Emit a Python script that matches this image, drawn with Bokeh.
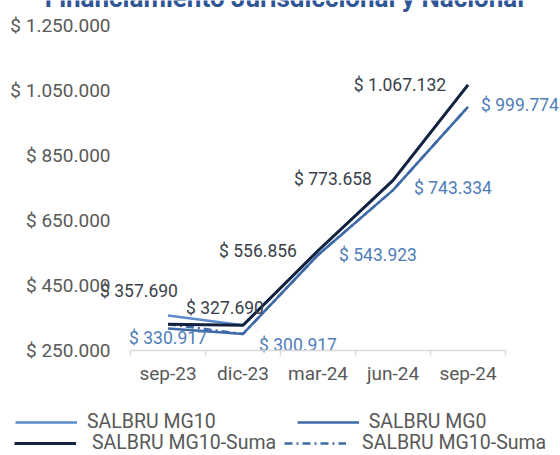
from bokeh.plotting import figure
from bokeh.models import Range1d, FixedTicker, Legend, LegendItem, Label
from bokeh.embed import file_html
from bokeh.resources import INLINE
from bokeh.core.properties import value

# ---- data ----
title_text = "Financiamiento Jurisdiccional y Nacional"
categories = ["sep-23", "dic-23", "mar-24", "jun-24", "sep-24"]
salbru_mg10 = [357690, 327690, 556856, 773658, 1067132]
salbru_mg0 = [318000, 300917, 543923, 743334, 999774]
salbru_mg10_suma = [330917, 327690, 556856, 773658, 1067132]
salbru_mg10_suma_dd = [330917, 300917, 543923, 743334, 999774]
dark_label_values = [357690, 327690, 556856, 773658, 1067132]
blue_label_values = [330917, 300917, 543923, 743334, 999774]
y_tick_values = [250000, 450000, 650000, 850000, 1050000, 1250000]


def fmt(v):
    return "$ " + f"{v:,}".replace(",", ".")


# ---- styling / geometry (pixels) ----
LIGHT = "#5B8BCB"
MID = "#3D6AA6"
NAVY = "#13233F"
AXIS_TXT = "#595959"
DARK_TXT = "#3B3F4A"
BLUE_TXT = "#4F7DBA"
TITLE_CLR = "#2F5597"
FONT = "Roboto"

W, H = 560, 454
AXIS_L = 130      # category axis start (px from left)
CAT_W = 75        # px per category
Y_TOP = 25        # px where the top tick sits
Y_BOT = 350       # px where the bottom tick / x axis sits

n = len(categories)
x_start = -0.5 - AXIS_L / CAT_W
x_end = x_start + W / CAT_W
y0, y1 = y_tick_values[0], y_tick_values[-1]
per_px = (y1 - y0) / (Y_BOT - Y_TOP)
y_start = y0 - (H - Y_BOT) * per_px
y_end = y1 + Y_TOP * per_px

xs = list(range(n))

p = figure(width=W, height=H, output_backend="svg", toolbar_location=None,
           x_range=Range1d(x_start, x_end), y_range=Range1d(y_start, y_end),
           min_border=0)
p.outline_line_color = None
p.xgrid.visible = False
p.ygrid.visible = False
p.background_fill_color = "white"

# x axis, drawn at the bottom value
p.xaxis.fixed_location = y0
p.xaxis.bounds = (-0.5, n - 0.5)
p.xaxis.ticker = FixedTicker(ticks=xs, minor_ticks=[i - 0.5 for i in range(n + 1)])
p.xaxis.major_label_overrides = {i: c for i, c in zip(xs, categories)}
p.xaxis.axis_line_color = "#D9D9D9"
p.xaxis.axis_line_width = 1.5
p.xaxis.major_tick_line_color = None
p.xaxis.major_tick_out = 0
p.xaxis.major_tick_in = 0
p.xaxis.minor_tick_line_color = "#D9D9D9"
p.xaxis.minor_tick_line_width = 1.5
p.xaxis.minor_tick_out = 5
p.xaxis.minor_tick_in = 0
p.xaxis.major_label_standoff = 6
p.xaxis.major_label_text_font = FONT
p.xaxis.major_label_text_font_size = "19px"
p.xaxis.major_label_text_color = AXIS_TXT

# y axis, drawn at the start of the category axis
p.yaxis.fixed_location = -0.5
p.yaxis.ticker = FixedTicker(ticks=y_tick_values)
p.yaxis.major_label_overrides = {v: fmt(v) for v in y_tick_values}
p.yaxis.axis_line_color = None
p.yaxis.major_tick_line_color = None
p.yaxis.minor_tick_line_color = None
p.yaxis.major_tick_out = 0
p.yaxis.major_label_standoff = 20
p.yaxis.major_label_text_font = FONT
p.yaxis.major_label_text_font_size = "19px"
p.yaxis.major_label_text_color = AXIS_TXT

# lines
r_mg10 = p.line(xs, salbru_mg10, line_color=LIGHT, line_width=2.5, line_join="round")
r_dd = p.line(xs, salbru_mg10_suma_dd, line_color=MID, line_width=2.5, line_dash="8 4 2 4")
r_mg0 = p.line(xs, salbru_mg0, line_color=MID, line_width=2.5, line_join="round")
r_suma = p.line(xs, salbru_mg10_suma, line_color=NAVY, line_width=3, line_join="round")

# data labels
dark_dx = [-29, -18, -60, -60, -68]
dark_dy = [-25, -17, 0, -1, 0]
blue_dx = [0, 55, 60, 60, 52]
blue_dy = [14, 11, 0, -2, -2]

p.text(xs, dark_label_values, text=[fmt(v) for v in dark_label_values],
       x_offset=dark_dx, y_offset=dark_dy, text_align="center", text_baseline="middle",
       text_font=value(FONT), text_font_size="17.5px", text_color=DARK_TXT)
p.text(xs, blue_label_values, text=[fmt(v) for v in blue_label_values],
       x_offset=blue_dx, y_offset=blue_dy, text_align="center", text_baseline="middle",
       text_font=value(FONT), text_font_size="17.5px", text_color=BLUE_TXT)

# title (cut by the top edge, as in the original)
p.add_layout(Label(x=284, y=H + 3, x_units="screen", y_units="screen", text=title_text,
                   text_align="center", text_baseline="alphabetic",
                   text_font=FONT, text_font_size="26px", text_font_style="bold",
                   text_color=TITLE_CLR))


# legend rows
def add_legend(items, vx, vy, standoff, spacing):
    leg = Legend(items=[LegendItem(label=lab, renderers=[r]) for lab, r in items],
                 location=(vx, vy), orientation="horizontal",
                 padding=0, margin=0, spacing=spacing,
                 border_line_color=None, background_fill_alpha=0,
                 glyph_width=62, glyph_height=20, label_height=20,
                 label_standoff=standoff,
                 label_text_font=FONT, label_text_font_size="19.5px",
                 label_text_color=AXIS_TXT)
    p.add_layout(leg, "center")


add_legend([("SALBRU MG10", r_mg10), ("SALBRU MG0", r_mg0)], 15, 21, 10, 81)
add_legend([("SALBRU MG10-Suma", r_suma), ("SALBRU MG10-Suma", r_dd)], 14, 0, 16, 8)

open("out.html", "w").write(file_html(p, INLINE))
